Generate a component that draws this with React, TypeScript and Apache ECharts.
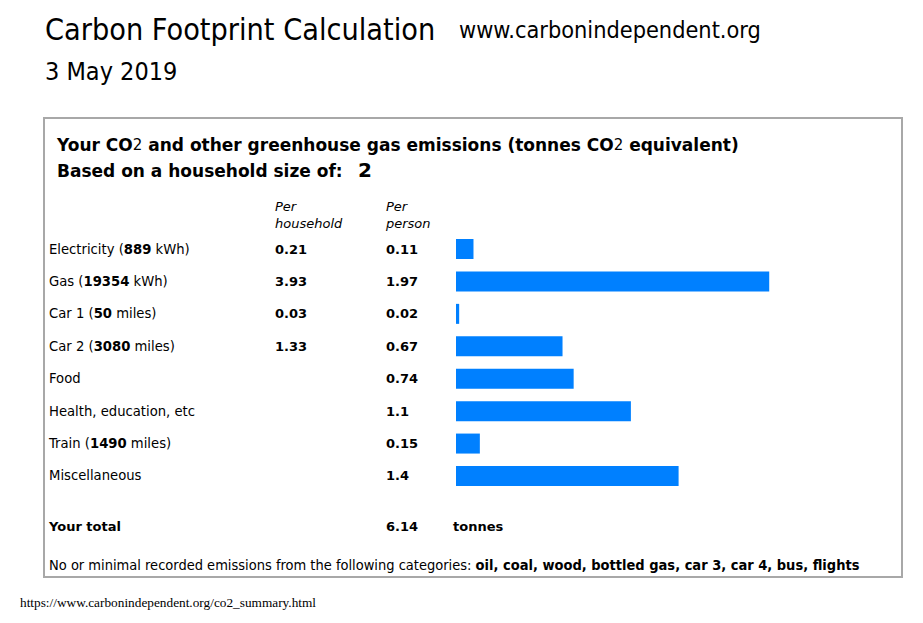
import React, { useEffect, useRef } from "react";
import * as echarts from "echarts";

const categoryNames = ["Electricity", "Gas", "Car 1", "Car 2", "Food", "Health, education, etc", "Train", "Miscellaneous"];
const amounts: (number | null)[] = [889, 19354, 50, 3080, null, null, 1490, null];
const amountUnits = ["kWh", "kWh", "miles", "miles", "", "", "miles", ""];
const perHousehold: (number | null)[] = [0.21, 3.93, 0.03, 1.33, null, null, null, null];
const perPerson = [0.11, 1.97, 0.02, 0.67, 0.74, 1.1, 0.15, 1.4];
const totalPerPerson = "6.14";
const householdSize = 2;
const noEmissionCategories = ["oil", "coal", "wood", "bottled gas", "car 3", "car 4", "bus", "flights"];

const SANS = "DejaVu Sans, Verdana, sans-serif";
const NARROW = "DejaVu Sans Condensed, DejaVu Sans, sans-serif";

export default function App() {
  const ref = useRef<HTMLDivElement>(null);
  useEffect(() => {
    if (!ref.current) return;
    const chart = echarts.init(ref.current, null, { renderer: "svg" });
    const rowLabels = categoryNames.map((n, i) => (amounts[i] != null ? `${n} (${amounts[i]} ${amountUnits[i]})` : n));
    const option: any = {
      animation: false,
      backgroundColor: "#ffffff",
      grid: { left: 456, top: 232.8, width: 318, height: 259.4 },
      xAxis: { type: "value", min: 0, max: 2, show: false },
      yAxis: [
        {
          type: "category",
          inverse: true,
          position: "left",
          data: rowLabels,
          axisLine: { show: false },
          axisTick: { show: false },
          axisLabel: {
            align: "left",
            margin: 407,
            color: "#000",
            fontFamily: SANS,
            fontSize: 13.2,
            formatter: (_v: string, i: number) =>
              amounts[i] != null
                ? `{n|${categoryNames[i]} (}{b|${amounts[i]}}{n| ${amountUnits[i]})}`
                : `{n|${categoryNames[i]}}`,
            rich: {
              n: { fontFamily: SANS, fontSize: 13.2, color: "#000" },
              b: { fontFamily: SANS, fontSize: 13.2, fontWeight: "bold", color: "#000" },
            },
          },
        },
        {
          type: "category",
          inverse: true,
          position: "left",
          offset: 0,
          data: rowLabels,
          axisLine: { show: false },
          axisTick: { show: false },
          axisLabel: {
            align: "left",
            margin: 181,
            color: "#000",
            fontFamily: SANS,
            fontSize: 13,
            fontWeight: "bold",
            formatter: (_v: string, i: number) => (perHousehold[i] != null ? String(perHousehold[i]) : ""),
          },
        },
        {
          type: "category",
          inverse: true,
          position: "left",
          offset: 0,
          data: rowLabels,
          axisLine: { show: false },
          axisTick: { show: false },
          axisLabel: {
            align: "left",
            margin: 70,
            color: "#000",
            fontFamily: SANS,
            fontSize: 13,
            fontWeight: "bold",
            formatter: (_v: string, i: number) => String(perPerson[i]),
          },
        },
      ],
      series: [
        {
          type: "bar",
          yAxisIndex: 0,
          data: perPerson,
          barWidth: 20,
          itemStyle: { color: "#0080ff" },
          silent: true,
        },
      ],
      graphic: [
        {
          type: "text",
          left: 45,
          top: 14,
          style: { text: "Carbon Footprint Calculation", font: `30.3px ${NARROW}`, fill: "#000" },
        },
        {
          type: "text",
          left: 459,
          top: 18,
          style: { text: "www.carbonindependent.org", font: `23.3px ${NARROW}`, fill: "#000" },
        },
        {
          type: "text",
          left: 45,
          top: 59,
          style: { text: "3 May 2019", font: `25px ${NARROW}`, fill: "#000" },
        },
        {
          type: "rect",
          shape: { x: 44, y: 118, width: 858, height: 459 },
          style: { fill: "none", stroke: "#a8a8a8", lineWidth: 2 },
        },
        {
          type: "text",
          left: 57,
          top: 136,
          style: {
            text: "{b|Your CO}{s|2}{b| and other greenhouse gas emissions (tonnes CO}{s|2}{b| equivalent)}",
            rich: {
              b: { font: `bold 17px ${SANS}`, fill: "#000" },
              s: { font: `15px ${SANS}`, fill: "#000" },
            },
          },
        },
        {
          type: "text",
          left: 57,
          top: 162,
          style: { text: "Based on a household size of:", font: `bold 17px ${SANS}`, fill: "#000" },
        },
        {
          type: "text",
          left: 358,
          top: 160,
          style: { text: String(householdSize), font: `bold 20px ${SANS}`, fill: "#000" },
        },
        {
          type: "text",
          left: 275,
          top: 198,
          style: { text: "Per\nhousehold", font: `italic 13px ${SANS}`, lineHeight: 17, fill: "#000" },
        },
        {
          type: "text",
          left: 386,
          top: 198,
          style: { text: "Per\nperson", font: `italic 13px ${SANS}`, lineHeight: 17, fill: "#000" },
        },
        {
          type: "text",
          left: 49,
          top: 520,
          style: { text: "Your total", font: `bold 13px ${SANS}`, fill: "#000" },
        },
        {
          type: "text",
          left: 386,
          top: 520,
          style: { text: totalPerPerson, font: `bold 13px ${SANS}`, fill: "#000" },
        },
        {
          type: "text",
          left: 453,
          top: 520,
          style: { text: "tonnes", font: `bold 13px ${SANS}`, fill: "#000" },
        },
        {
          type: "text",
          left: 49,
          top: 557,
          style: {
            text: `{n|No or minimal recorded emissions from the following categories: }{b|${noEmissionCategories.join(", ")}}`,
            rich: {
              n: { font: `14.5px ${NARROW}`, fill: "#000" },
              b: { font: `bold 14.5px ${NARROW}`, fill: "#000" },
            },
          },
        },
        {
          type: "text",
          left: 20,
          top: 596,
          style: { text: "https://www.carbonindependent.org/co2_summary.html", font: `13.3px "Liberation Serif", serif`, fill: "#000" },
        },
      ],
    };
    chart.setOption(option);
    return () => chart.dispose();
  }, []);
  return <div ref={ref} style={{ position: "fixed", left: 0, top: 0, width: 923, height: 623, background: "#fff" }} />;
}
